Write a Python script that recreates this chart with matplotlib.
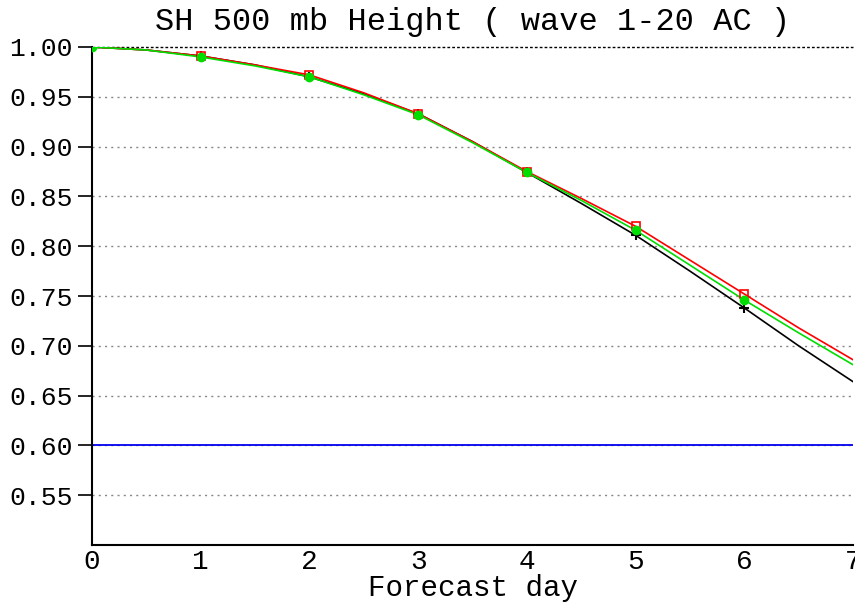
import matplotlib
matplotlib.use("Agg")
import matplotlib.pyplot as plt
import numpy as np

days = [0, 0.5, 1, 1.5, 2, 2.5, 3, 3.5, 4, 4.5, 5, 5.5, 6, 6.5, 7]
black = [1.000, 0.997, 0.991, 0.982, 0.970, 0.953, 0.933, 0.905, 0.874, 0.843, 0.811, 0.775, 0.738, 0.700, 0.664]
red   = [1.000, 0.997, 0.991, 0.982, 0.972, 0.954, 0.933, 0.905, 0.875, 0.848, 0.820, 0.786, 0.752, 0.718, 0.686]
green = [1.000, 0.997, 0.990, 0.981, 0.970, 0.952, 0.932, 0.904, 0.874, 0.846, 0.816, 0.781, 0.746, 0.713, 0.681]
marker_days = [0, 1, 2, 3, 4, 5, 6]
yticks = [0.55, 0.60, 0.65, 0.70, 0.75, 0.80, 0.85, 0.90, 0.95, 1.00]
xticks = [0, 1, 2, 3, 4, 5, 6, 7]

FONT = "Liberation Mono"

fig = plt.figure(figsize=(8.55, 6.07), dpi=100)
ax = fig.add_axes([92/855, 1-545/607, (853-92)/855, (545-47)/607])
ax.set_xlim(0, 7)
ax.set_ylim(0.50, 1.00)

for v in yticks[:-1]:
    ax.axhline(v, color="#888888", lw=1, ls=(0, (1.5, 3)), zorder=1)
ax.axhline(1.00, color="black", lw=1, ls=(0, (2, 1.5)), zorder=1, clip_on=False)
ax.axhline(0.60, color="#0000ee", lw=1.3, zorder=2)

d = np.array(days)
idx = [days.index(m) for m in marker_days]
ax.plot(days, black, color="black", lw=1.2, zorder=3)
ax.plot(days, red, color="#ff0000", lw=1.2, zorder=4)
ax.plot(days, green, color="#00dd00", lw=1.2, zorder=5)
ax.plot(d[idx][1:], np.array(black)[idx][1:], "+", color="black", ms=7, mew=1.5, zorder=6)
ax.plot(d[idx][1:], np.array(red)[idx][1:], "s", mfc="none", mec="#ff0000", ms=6, mew=1.2, zorder=6)
ax.plot(d[idx], np.array(green)[idx], "o", color="#00dd00", ms=6, zorder=7)

ax.spines["top"].set_visible(False)
ax.spines["right"].set_visible(False)
ax.spines["left"].set_linewidth(1.5)
ax.spines["bottom"].set_linewidth(1.5)

ax.set_yticks(yticks)
ax.set_yticklabels([f"{v:.2f}" for v in yticks], fontfamily=FONT)
ax.set_xticks(xticks)
ax.set_xticklabels([str(x) for x in xticks], fontfamily=FONT)
ax.tick_params(axis="y", direction="out", length=10, width=1.2, labelsize=19, pad=4)
ax.tick_params(axis="x", length=0, labelsize=20, pad=3)
ax.set_xlabel("Forecast day", fontsize=21, fontfamily=FONT, labelpad=-1)
ax.set_title("SH 500 mb Height ( wave 1-20 AC )", fontsize=23, fontfamily=FONT, pad=12)

fig.savefig("out.png", dpi=100)
